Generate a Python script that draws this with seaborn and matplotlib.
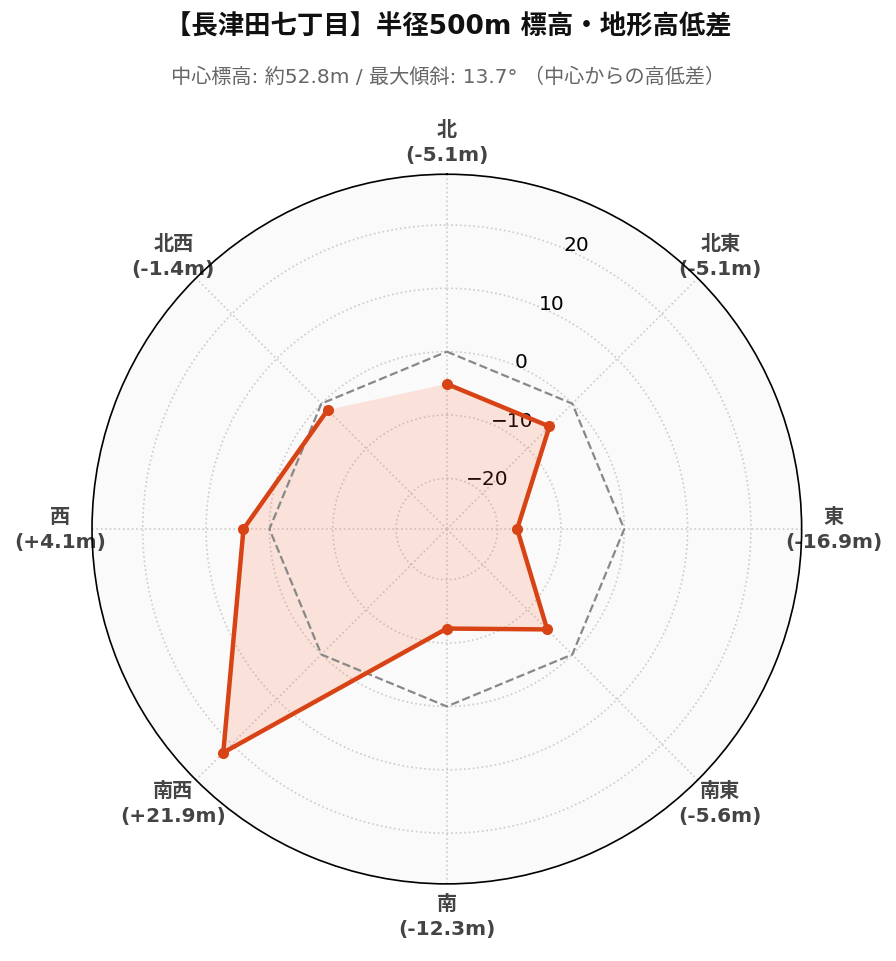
import numpy as np
import pandas as pd
import seaborn as sns
import matplotlib.pyplot as plt
import matplotlib.transforms as mtransforms

directions = ['北', '北東', '東', '南東', '南', '南西', '西', '北西']
diffs = [-5.1, -5.1, -16.9, -5.6, -12.3, 21.9, 4.1, -1.4]
rticks = [-20, -10, 0, 10, 20]

sns.set_theme(style="white")
plt.rcParams['font.family'] = ['DejaVu Sans', 'Noto Sans CJK JP']

df = pd.DataFrame({'dir': directions, 'diff': diffs})
df['theta'] = np.arange(len(df)) * 2 * np.pi / len(df)
closed = pd.concat([df, df.iloc[:1]], ignore_index=True)

fig = plt.figure(figsize=(8.96, 9.62), dpi=100)
ax = fig.add_axes([0.1027, 0.080, 0.792, 0.738], projection='polar')
ax.set_theta_offset(np.pi / 2)
ax.set_theta_direction(-1)
ax.set_facecolor('#fafafa')
ax.set_ylim(-28, 28)

# zero reference
ax.plot(closed['theta'], [0] * len(closed), ls='--', color='#888888', lw=1.6, zorder=2)

col = '#d84315'
ax.fill(closed['theta'], closed['diff'], color='#ff5722', alpha=0.15, lw=0, zorder=1)
sns.lineplot(x=closed['theta'], y=closed['diff'], ax=ax, color=col, lw=3.2,
             sort=False, marker='o', markersize=8, markeredgewidth=0, zorder=3)
ax.set_xlabel('')
ax.set_ylabel('')

ax.set_xticks(df['theta'])
labels = [f"{d}\n({v:+.1f}m)" for d, v in zip(directions, diffs)]
ax.set_xticklabels(labels, fontsize=14.5, fontweight='bold', color='#444444', linespacing=1.4)
ax.tick_params(axis='x', pad=10)
ax.set_yticks(rticks)
ax.set_yticklabels([f"{t}".replace('-', '\u2212') for t in rticks], fontsize=14.5, color='black')
ax.set_rlabel_position(22.5)
shift = mtransforms.ScaledTranslation(0, -6 / 100, fig.dpi_scale_trans)
for lab in ax.get_yticklabels():
    lab.set_transform(lab.get_transform() + shift)
ax.grid(True, color='#cccccc', ls=':', lw=1.2)
ax.spines['polar'].set_color('black')
ax.spines['polar'].set_linewidth(1.2)

fig.text(0.5, 0.971, '【長津田七丁目】半径500m 標高・地形高低差', ha='center', va='center',
         fontsize=19, fontweight='bold', color='#111111')
fig.text(0.5, 0.920, '中心標高: 約52.8m / 最大傾斜: 13.7° （中心からの高低差）', ha='center', va='center',
         fontsize=14.5, color='#666666')

fig.savefig('out.png', dpi=100)
